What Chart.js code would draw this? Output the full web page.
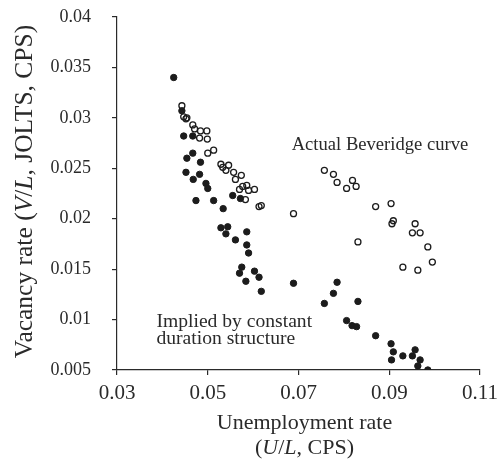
<!DOCTYPE html>
<html>
<head>
<meta charset="utf-8">
<script src="https://cdn.jsdelivr.net/npm/chart.js@4/dist/chart.umd.min.js"></script>
<style>
  html, body { margin: 0; padding: 0; background: #fff; }
  canvas { display: block; }
</style>
</head>
<body>
<canvas id="beveridge" width="500" height="464"></canvas>
<script>
(function () {
    "use strict";

    // Unemployment rate (U/L) and vacancy rate (V/L), implied by constant duration structure
    const impliedU = [0.0425, 0.0443, 0.0447, 0.0467, 0.0467, 0.0454, 0.0484, 0.0452, 0.0468, 0.0482,
                      0.0496, 0.0500, 0.0474, 0.0513, 0.0534, 0.0555, 0.0572, 0.0529, 0.0544, 0.0540,
                      0.0561, 0.0586, 0.0586, 0.0590, 0.0575, 0.0570, 0.0584, 0.0603, 0.0613, 0.0618,
                      0.0689, 0.0757, 0.0777, 0.0785, 0.0831, 0.0806, 0.0818, 0.0828, 0.0870, 0.0904,
                      0.0909, 0.0905, 0.0930, 0.0951, 0.0957, 0.0968, 0.0963, 0.0985];
    const impliedV = [0.0340, 0.0307, 0.0282, 0.0282, 0.0265, 0.0260, 0.0256, 0.0246, 0.0239, 0.0244,
                      0.0235, 0.0230, 0.0218, 0.0218, 0.0210, 0.0223, 0.0220, 0.0191, 0.0192, 0.0185,
                      0.0179, 0.0187, 0.0174, 0.0166, 0.0152, 0.0146, 0.0138, 0.0148, 0.0142, 0.0128,
                      0.0136, 0.0116, 0.0126, 0.0137, 0.0118, 0.0099, 0.0094, 0.0093, 0.0084, 0.0076,
                      0.0068, 0.0060, 0.0064, 0.0064, 0.0070, 0.0060, 0.0054, 0.0050];

    // Actual Beveridge curve (JOLTS vacancies, CPS unemployment)
    const actualU = [0.0443, 0.0447, 0.0452, 0.0454, 0.0467, 0.0471, 0.0484, 0.0498, 0.0482, 0.0499,
                     0.0500, 0.0513, 0.0529, 0.0533, 0.0540, 0.0546, 0.0557, 0.0561, 0.0574, 0.0570,
                     0.0577, 0.0586, 0.0590, 0.0603, 0.0583, 0.0613, 0.0618, 0.0689, 0.0757, 0.0777,
                     0.0785, 0.0806, 0.0819, 0.0827, 0.0870, 0.0904, 0.0909, 0.0906, 0.0957, 0.0951,
                     0.0968, 0.0831, 0.0985, 0.0930, 0.0963, 0.0995];
    const actualV = [0.0312, 0.0301, 0.0299, 0.0300, 0.0293, 0.0289, 0.0287, 0.0287, 0.0280, 0.0279,
                     0.0265, 0.0268, 0.0254, 0.0251, 0.0248, 0.0253, 0.0246, 0.0239, 0.0243, 0.0229,
                     0.0232, 0.0233, 0.0228, 0.0229, 0.0219, 0.0212, 0.0213, 0.0205, 0.0248, 0.0244,
                     0.0236, 0.0230, 0.0238, 0.0232, 0.0212, 0.0215, 0.0198, 0.0195, 0.0195, 0.0186,
                     0.0186, 0.0177, 0.0172, 0.0152, 0.0149, 0.0157];

    const serif = "'Liberation Serif', 'Times New Roman', serif";
    const ink = '#2a2a2a';

    function toPoints(xs, ys) {
        return xs.map(function (x, i) { return { x: x, y: ys[i] }; });
    }

    // draws a run of text pieces, some of them italic, starting at x (or centred on it)
    function drawRich(ctx, parts, x, y, size, centred) {
        let width = 0;
        parts.forEach(function (p) {
            ctx.font = (p[1] ? 'italic ' : '') + size + 'px ' + serif;
            width += ctx.measureText(p[0]).width;
        });
        let cx = centred ? x - width / 2 : x;
        parts.forEach(function (p) {
            ctx.font = (p[1] ? 'italic ' : '') + size + 'px ' + serif;
            ctx.fillText(p[0], cx, y);
            cx += ctx.measureText(p[0]).width;
        });
    }

    const labelsPlugin = {
        id: 'axisTitlesAndNotes',
        afterDraw: function (chart) {
            const ctx = chart.ctx;
            const xs = chart.scales.x, ys = chart.scales.y;
            const area = chart.chartArea;
            ctx.save();
            ctx.fillStyle = ink;
            ctx.textAlign = 'left';
            ctx.textBaseline = 'alphabetic';

            // x axis title, two lines
            const xc = (area.left + area.right) / 2 + 6;
            drawRich(ctx, [['Unemployment rate', false]], xc, 429, 22, true);
            drawRich(ctx, [['(', false], ['U', true], ['/', false], ['L', true], [', CPS)', false]], xc, 454, 22, true);

            // y axis title, rotated
            ctx.save();
            ctx.translate(32, (area.top + area.bottom) / 2 - 2);
            ctx.rotate(-Math.PI / 2);
            drawRich(ctx, [['Vacancy rate (', false], ['V', true], ['/', false], ['L', true], [', JOLTS, CPS)', false]], 0, 0, 25.5, true);
            ctx.restore();

            // curve notes
            drawRich(ctx, [['Actual Beveridge curve', false]], xs.getPixelForValue(0.0685), ys.getPixelForValue(0.0268), 18.6, false);
            drawRich(ctx, [['Implied by constant', false]], xs.getPixelForValue(0.0387), ys.getPixelForValue(0.0093), 19.6, false);
            drawRich(ctx, [['duration structure', false]], xs.getPixelForValue(0.0387), ys.getPixelForValue(0.0093) + 17.7, 19.6, false);
            ctx.restore();
        }
    };

    function tickText(value) {
        return String(Number(value.toFixed(3)));
    }

    const ctx = document.getElementById('beveridge').getContext('2d');
    new Chart(ctx, {
        type: 'scatter',
        data: {
            datasets: [
                {
                    label: 'Implied by constant duration structure',
                    data: toPoints(impliedU, impliedV),
                    pointRadius: 3.2,
                    pointBorderWidth: 1,
                    backgroundColor: '#1c1c1c',
                    borderColor: '#1c1c1c'
                },
                {
                    label: 'Actual Beveridge curve',
                    data: toPoints(actualU, actualV),
                    pointRadius: 3.0,
                    pointBorderWidth: 1.3,
                    backgroundColor: 'rgba(255,255,255,0)',
                    borderColor: '#1c1c1c'
                }
            ]
        },
        options: {
            responsive: false,
            animation: false,
            devicePixelRatio: 1,
            layout: { padding: { top: 17, right: 20, left: 0, bottom: 0 } },
            plugins: {
                legend: { display: false },
                tooltip: { enabled: false }
            },
            scales: {
                x: {
                    type: 'linear',
                    min: 0.03,
                    max: 0.11,
                    ticks: {
                        stepSize: 0.02,
                        color: ink,
                        padding: 6,
                        font: { family: serif, size: 21 },
                        callback: tickText
                    },
                    grid: { drawOnChartArea: false, tickLength: 5, color: ink, lineWidth: 1.2 },
                    border: { color: ink, width: 1.2 },
                    afterFit: function (scale) {
                        scale.height = 94;
                        scale.paddingLeft = 0;
                        scale.paddingRight = 0;
                    }
                },
                y: {
                    type: 'linear',
                    min: 0.005,
                    max: 0.04,
                    ticks: {
                        stepSize: 0.005,
                        color: ink,
                        padding: 21,
                        font: { family: serif, size: 18 },
                        callback: tickText
                    },
                    grid: { drawOnChartArea: false, tickLength: 5, color: ink, lineWidth: 1.2 },
                    border: { color: ink, width: 1.2 },
                    afterFit: function (scale) {
                        scale.width = 117;
                        scale.paddingTop = 0;
                        scale.paddingBottom = 0;
                    }
                }
            }
        },
        plugins: [labelsPlugin]
    });
})();
</script>
</body>
</html>
